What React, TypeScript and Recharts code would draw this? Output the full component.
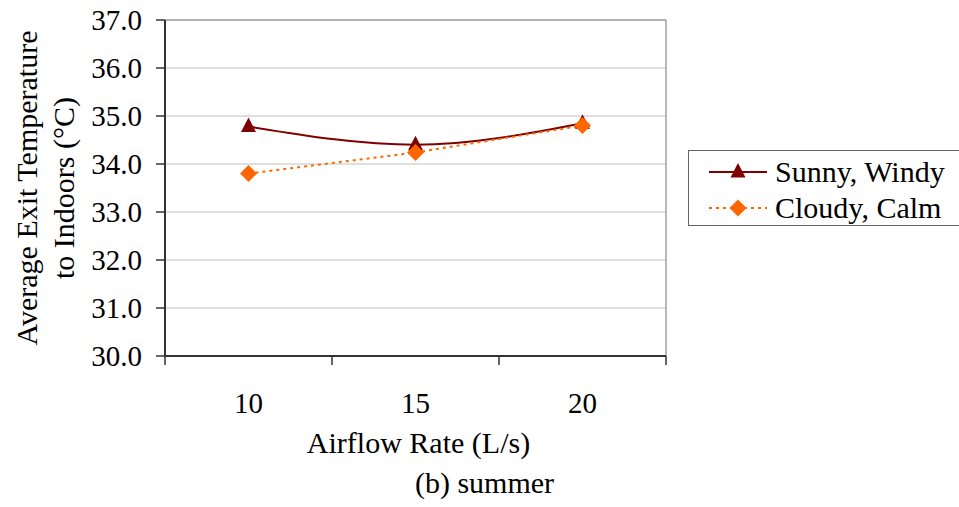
import React from "react";
import {
  LineChart,
  Line,
  XAxis,
  YAxis,
  CartesianGrid,
  ReferenceLine,
  Legend,
  Label,
} from "recharts";

const airflowRates = [10, 15, 20];
const sunnyWindy = [34.78, 34.4, 34.85];
const cloudyCalm = [33.8, 34.24, 34.8];
const yTicks = [30, 31, 32, 33, 34, 35, 36, 37];
const bandEdges = [7.5, 12.5, 17.5, 22.5];

const seriesNames = ["Sunny, Windy", "Cloudy, Calm"];
const SERIF = "Liberation Serif";
const DARK_RED = "#800000";
const ORANGE = "#FF6600";

const data = airflowRates.map((x, i) => ({
  x,
  sunny: sunnyWindy[i],
  cloudy: cloudyCalm[i],
}));

const Triangle = (props: any) => {
  const { cx, cy } = props;
  if (cx == null || cy == null) return null;
  return <path d={`M${cx},${cy - 9} L${cx + 7.5},${cy + 5.5} L${cx - 7.5},${cy + 5.5} Z`} fill={DARK_RED} />;
};

const Diamond = (props: any) => {
  const { cx, cy } = props;
  if (cx == null || cy == null) return null;
  return <path d={`M${cx},${cy - 8.5} L${cx + 8.5},${cy} L${cx},${cy + 8.5} L${cx - 8.5},${cy} Z`} fill={ORANGE} />;
};

const LegendBox = () => (
  <div
    style={{
      border: "1px solid #666",
      width: 275,
      height: 76,
      boxSizing: "border-box",
      background: "#fff",
      fontFamily: SERIF,
      fontSize: 30,
      color: "#000",
      paddingTop: 3,
    }}
  >
    {seriesNames.map((name, i) => (
      <div key={name} style={{ display: "flex", alignItems: "center", height: 36 }}>
        <svg width={86} height={36} style={{ flex: "none" }}>
          <line
            x1={20}
            x2={78}
            y1={18}
            y2={18}
            stroke={i === 0 ? DARK_RED : ORANGE}
            strokeWidth={2}
            strokeDasharray={i === 0 ? undefined : "3 4"}
          />
          {i === 0 ? <Triangle cx={49} cy={18} /> : <Diamond cx={49} cy={18} />}
        </svg>
        <span style={{ lineHeight: "36px", whiteSpace: "nowrap" }}>{name}</span>
      </div>
    ))}
  </div>
);

const YTitle = () => {
  const cy = 188;
  return (
    <g style={{ fontFamily: SERIF, fontSize: 30 }} fill="#000">
      <text x={26} y={cy} transform={`rotate(-90, 26, ${cy})`} textAnchor="middle" dominantBaseline="central">
        Average Exit Temperature
      </text>
      <text x={63} y={cy} transform={`rotate(-90, 63, ${cy})`} textAnchor="middle" dominantBaseline="central">
        to Indoors (°C)
      </text>
    </g>
  );
};

const XTitle = (props: any) => {
  const { viewBox } = props;
  const cx = viewBox.x + viewBox.width / 2;
  const top = viewBox.y;
  return (
    <g style={{ fontFamily: SERIF, fontSize: 30 }} fill="#000">
      <text x={cx + 3} y={top + 88} textAnchor="middle">
        Airflow Rate (L/s)
      </text>
      <text x={cx + 69} y={top + 128} textAnchor="middle">
        (b) summer
      </text>
    </g>
  );
};

const tickStyle = { fontFamily: SERIF, fontSize: 29, fill: "#000" };

export default function App() {
  return (
    <div style={{ position: "absolute", left: 0, top: 0, width: 959, height: 507, background: "#fff" }}>
      <LineChart
        width={959}
        height={507}
        data={data}
        margin={{ top: 20, right: 293, left: 0, bottom: 0 }}
        style={{ fontFamily: SERIF }}
      >
        <CartesianGrid horizontal vertical={false} stroke="#c0c0c0" />
        <XAxis
          xAxisId="edges"
          type="number"
          dataKey="x"
          domain={[7.5, 22.5]}
          ticks={bandEdges}
          tick={() => <g />}
          tickSize={9}
          height={9}
          axisLine={{ stroke: "#333", strokeWidth: 2 }}
          tickLine={{ stroke: "#333", strokeWidth: 1.5 }}
        />
        <XAxis
          xAxisId="labels"
          type="number"
          dataKey="x"
          domain={[7.5, 22.5]}
          ticks={airflowRates}
          axisLine={false}
          tickLine={false}
          tickSize={0}
          tickMargin={27}
          height={142}
          tick={tickStyle}
        >
          <Label content={<XTitle />} />
        </XAxis>
        <YAxis
          type="number"
          domain={[30, 37]}
          ticks={yTicks}
          width={165}
          tickFormatter={(v: number) => v.toFixed(1)}
          tickSize={9}
          tickMargin={14}
          axisLine={{ stroke: "#333", strokeWidth: 2 }}
          tickLine={{ stroke: "#333", strokeWidth: 1.5 }}
          tick={tickStyle}
        >
          <Label content={<YTitle />} />
        </YAxis>
        <ReferenceLine y={37} xAxisId="edges" stroke="#a0a0a0" strokeWidth={1.5} />
        <ReferenceLine x={22.5} xAxisId="edges" stroke="#a0a0a0" strokeWidth={1.5} />
        <Legend
          layout="horizontal"
          verticalAlign="middle"
          align="center"
          content={() => <LegendBox />}
          wrapperStyle={{ position: "absolute", left: 688, top: 150, width: 275, height: 76 }}
        />
        <Line
          xAxisId="edges"
          type="monotone"
          dataKey="sunny"
          name={seriesNames[0]}
          stroke={DARK_RED}
          strokeWidth={2}
          dot={<Triangle />}
          activeDot={false}
          isAnimationActive={false}
        />
        <Line
          xAxisId="edges"
          type="linear"
          dataKey="cloudy"
          name={seriesNames[1]}
          stroke={ORANGE}
          strokeWidth={2}
          strokeDasharray="3 4"
          dot={<Diamond />}
          activeDot={false}
          isAnimationActive={false}
        />
      </LineChart>
    </div>
  );
}
